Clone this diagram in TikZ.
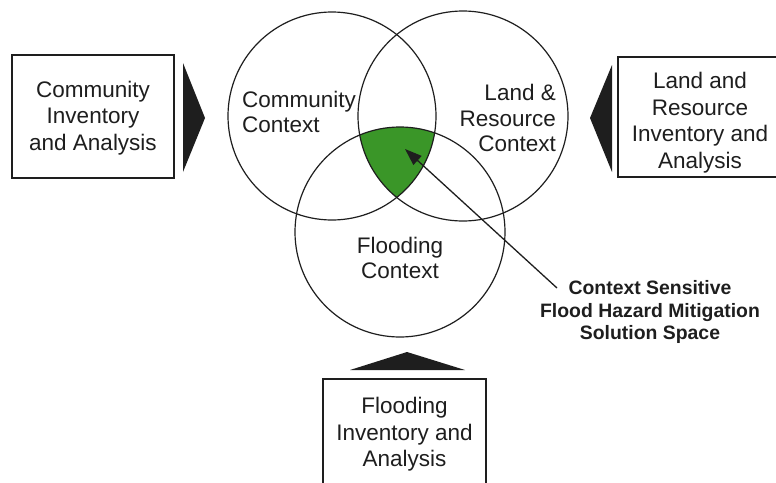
\documentclass[tikz,border=0pt]{standalone}
\usepackage{fontspec}
\setmainfont{Liberation Sans}
\usetikzlibrary{arrows.meta}
\definecolor{solgreen}{RGB}{58,150,40}
\definecolor{ink}{RGB}{30,30,30}
\tikzset{
  venn/.style={circle, draw=ink, line width=1.2pt, inner sep=0pt},
  infobox/.style={draw=ink, line width=1.4pt, fill=white},
  boxtext/.style={align=center, font=\fontsize{22.5}{26.5}\selectfont, text=ink, inner sep=0pt},
  ctxtext/.style={font=\fontsize{22.5}{25.5}\selectfont, text=ink, inner sep=0pt},
  pointer/.style={fill=ink, draw=none},
}
\begin{document}
\begin{tikzpicture}[x=1pt, y=-1pt]
\useasboundingbox (0,0) rectangle (776,482);
\clip (0,0) rectangle (776,482);
% green intersection
\begin{scope}
  \clip (332,116) circle (104);
  \clip (463,116) circle (105);
  \fill[solgreen] (400,232) circle (105);
\end{scope}
% circles
\node[venn, minimum size=208pt] (cc) at (332,116) {};
\node[venn, minimum size=210pt] (lc) at (463,116) {};
\node[venn, minimum size=210pt] (fc) at (400,232) {};
% circle texts
\node[ctxtext, align=left] (cct) at (299,112) {Community\\Context};
\node[ctxtext, align=right, anchor=east] (lct) at (556,118) {Land \&\\Resource\\Context};
\node[ctxtext, align=center] (fct) at (400,258) {Flooding\\Context};
% boxes
\draw[infobox] (12,55) rectangle (174,178);
\node[boxtext] (cia) at (93,118) {Community\\Inventory\\and Analysis};
\draw[infobox] (618,57) rectangle (790,177);
\node[boxtext] (lria) at (700,122.5) {Land and\\Resource\\Inventory and\\Analysis};
\draw[infobox] (323,379) rectangle (486,500);
\node[boxtext] (fia) at (404.5,434.5) {Flooding\\Inventory and\\Analysis};
% pointer triangles
\fill[pointer] (183,63) -- (205,118) -- (183,172) -- cycle;
\fill[pointer] (612,65) -- (590,118) -- (612,172) -- cycle;
\fill[pointer] (350,370) -- (407,352) -- (465,370) -- cycle;
% solution label and arrow
\node[align=center, font=\bfseries\fontsize{19.4}{22.5}\selectfont, text=ink, inner sep=0pt] (sol) at (650,312) {Context Sensitive\\Flood Hazard Mitigation\\Solution Space};
\coordinate (tip) at (405,149);
\coordinate (tail) at (557,288);
\draw[ink, line width=1.3pt, -{Triangle[length=17pt,width=12pt]}] (tail) -- (tip);
\end{tikzpicture}
\end{document}
